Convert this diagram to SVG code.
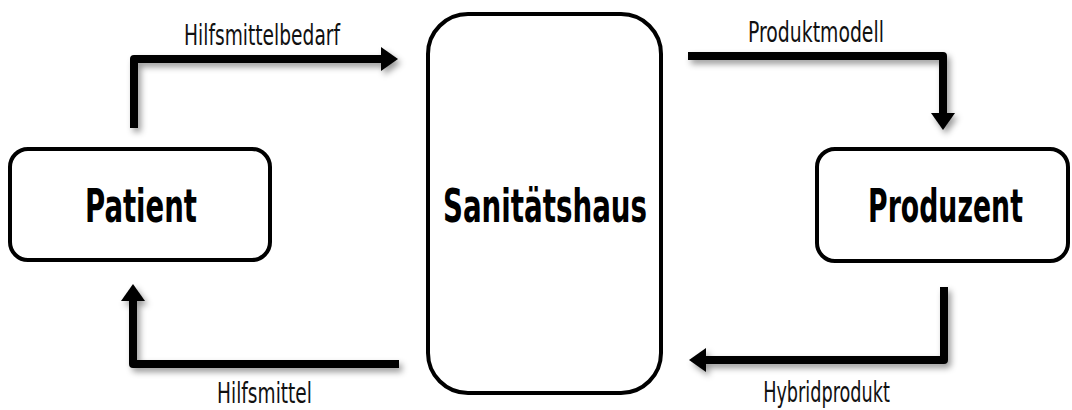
<svg xmlns="http://www.w3.org/2000/svg" width="1072" height="410" viewBox="0 0 1072 410">
<style>
.box{fill:#fff;stroke:#000;stroke-width:4}
.node{font-family:"DejaVu Sans Condensed","Liberation Sans Narrow","Liberation Sans",sans-serif;font-weight:bold;font-size:47px;fill:#000;text-anchor:middle}
.lbl{font-family:"DejaVu Sans Condensed","Liberation Sans Narrow","Liberation Sans",sans-serif;font-size:28px;fill:#111;text-anchor:middle}
.conn{fill:none;stroke:#000;stroke-width:8;stroke-linejoin:round;marker-end:url(#ah)}
</style>
<defs>
<marker id="ah" markerUnits="userSpaceOnUse" markerWidth="18" markerHeight="24" refX="0" refY="12" orient="auto">
<path d="M0,0 L17,12 L0,24 Z" fill="#000"/>
</marker>
<filter id="sh" x="-10%" y="-10%" width="130%" height="140%">
<feDropShadow dx="3" dy="4" stdDeviation="3" flood-color="#000" flood-opacity="0.4"/>
</filter>
</defs>
<rect width="1072" height="410" fill="#fff"/>
<g id="connectors" filter="url(#sh)">
<path class="conn" d="M134,128 V59 H381"/>
<path class="conn" d="M399,364 H133 V301"/>
<path class="conn" d="M688,56 H943 V113"/>
<path class="conn" d="M944,287 V360 H706"/>
</g>
<g id="labels">
<text class="lbl" transform="translate(262,45) scale(0.65,1)" textLength="240" lengthAdjust="spacingAndGlyphs">Hilfsmittelbedarf</text>
<text class="lbl" transform="translate(264.5,403) scale(0.65,1)" textLength="146" lengthAdjust="spacingAndGlyphs">Hilfsmittel</text>
<text class="lbl" transform="translate(816,42) scale(0.65,1)" textLength="209" lengthAdjust="spacingAndGlyphs">Produktmodell</text>
<text class="lbl" transform="translate(826.5,402) scale(0.65,1)" textLength="195" lengthAdjust="spacingAndGlyphs">Hybridprodukt</text>
</g>
<g id="patient">
<rect class="box" x="10" y="149" width="260" height="111" rx="18"/>
<text class="node" transform="translate(141,222) scale(0.58,1)" textLength="193" lengthAdjust="spacingAndGlyphs">Patient</text>
</g>
<g id="sanitaetshaus">
<rect class="box" x="428" y="14" width="233" height="379" rx="40"/>
<text class="node" transform="translate(545,222) scale(0.58,1)" textLength="352" lengthAdjust="spacingAndGlyphs">Sanitätshaus</text>
</g>
<g id="produzent">
<rect class="box" x="817" y="149" width="251" height="112" rx="18"/>
<text class="node" transform="translate(945.5,222) scale(0.58,1)" textLength="267" lengthAdjust="spacingAndGlyphs">Produzent</text>
</g>
</svg>
